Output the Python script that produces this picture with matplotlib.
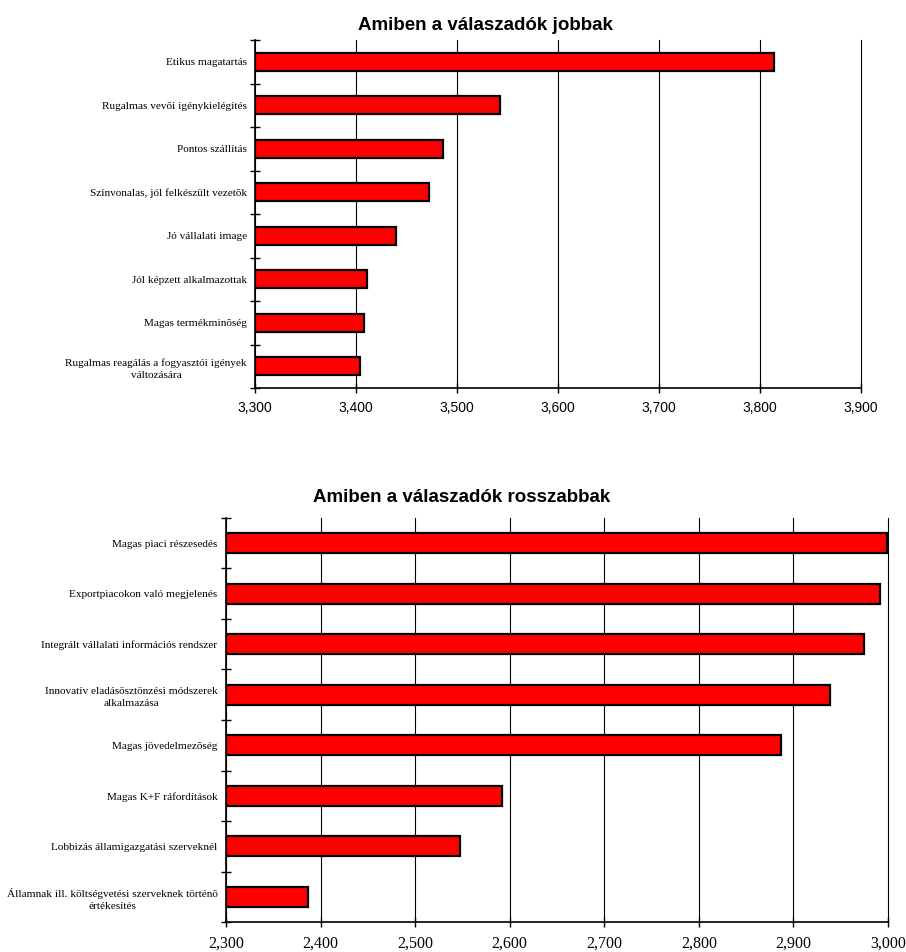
import numpy as np
import matplotlib
matplotlib.use("Agg")
import matplotlib.pyplot as plt
import matplotlib.ticker as mt

# data
jobb_labels = ["Etikus magatartás",
               "Rugalmas vevõi igénykielégítés",
               "Pontos szállítás",
               "Színvonalas, jól felkészült vezetõk",
               "Jó vállalati image",
               "Jól képzett alkalmazottak",
               "Magas termékminõség",
               "Rugalmas reagálás a fogyasztói igények\nváltozására"]
jobb_values = [3.814, 3.543, 3.486, 3.472, 3.440, 3.411, 3.408, 3.404]

rossz_labels = ["Magas piaci részesedés",
                "Exportpiacokon való megjelenés",
                "Integrált vállalati információs rendszer",
                "Innovatív eladásösztönzési módszerek\nalkalmazása",
                "Magas jövedelmezõség",
                "Magas K+F ráfordítások",
                "Lobbizás államigazgatási szerveknél",
                "Államnak ill. költségvetési szerveknek történõ\nértékesítés"]
rossz_values = [2.999, 2.992, 2.975, 2.939, 2.887, 2.592, 2.547, 2.387]

fig = plt.figure(figsize=(9.06, 9.52), dpi=100)
ax1 = fig.add_axes([0.2815, 0.5924, 0.6689, 0.3655])
ax2 = fig.add_axes([0.2494, 0.0315, 0.7307, 0.4244])

comma_fmt = mt.FuncFormatter(lambda x, pos: f"{x:.3f}".replace(".", ","))

for ax, labels, vals, lo, hi, hbar, tickfont in [
        (ax1, jobb_labels, jobb_values, 3.3, 3.9, 0.42, "Liberation Sans"),
        (ax2, rossz_labels, rossz_values, 2.3, 3.0, 0.40, "Liberation Serif"),
]:
    n = len(vals)
    y = np.arange(n)[::-1]
    ax.barh(y, np.array(vals) - lo, left=lo, height=hbar,
            color="#ff0000", edgecolor="black", linewidth=1.6, zorder=3)
    ax.set_xlim(lo, hi)
    ax.set_ylim(-0.5, n - 0.5)
    ax.set_xticks(np.round(np.arange(lo, hi + 0.001, 0.1), 3))
    ax.xaxis.set_major_formatter(comma_fmt)
    ax.xaxis.grid(True, color="black", linewidth=0.8, zorder=0)
    ax.set_axisbelow(True)
    for gl in ax.get_xgridlines():
        gl.set_clip_on(False)
    # category boundary ticks, labels at centers
    ax.set_yticks(np.arange(-0.5, n, 1.0))
    ax.set_yticklabels([])
    ax.set_yticks(y, minor=True)
    ax.set_yticklabels(labels, minor=True, fontfamily="Liberation Serif",
                       fontsize=8.1, linespacing=1.5,
                       ha="right", multialignment="center")
    ax.tick_params(axis="y", which="minor", length=0, pad=6)
    ax.tick_params(axis="y", which="major", direction="inout", length=7, width=1)
    ax.tick_params(axis="x", direction="inout", length=7, width=1, pad=6)
    for lab in ax.get_xticklabels():
        lab.set_fontfamily(tickfont)
    for s in ["top", "right"]:
        ax.spines[s].set_visible(False)
    ax.spines["left"].set_linewidth(1.2)
    ax.spines["bottom"].set_linewidth(1.2)

for lab in ax1.get_xticklabels():
    lab.set_fontsize(10)
for lab in ax2.get_xticklabels():
    lab.set_fontsize(11.5)

fig.text(0.536, 1 - 25 / 952, "Amiben a válaszadók jobbak", ha="center",
         va="center", fontsize=13.5, fontweight="bold", fontfamily="Liberation Sans")
fig.text(0.509, 1 - 497 / 952, "Amiben a válaszadók rosszabbak", ha="center",
         va="center", fontsize=13.5, fontweight="bold", fontfamily="Liberation Sans")

fig.savefig("out.png", dpi=100)
